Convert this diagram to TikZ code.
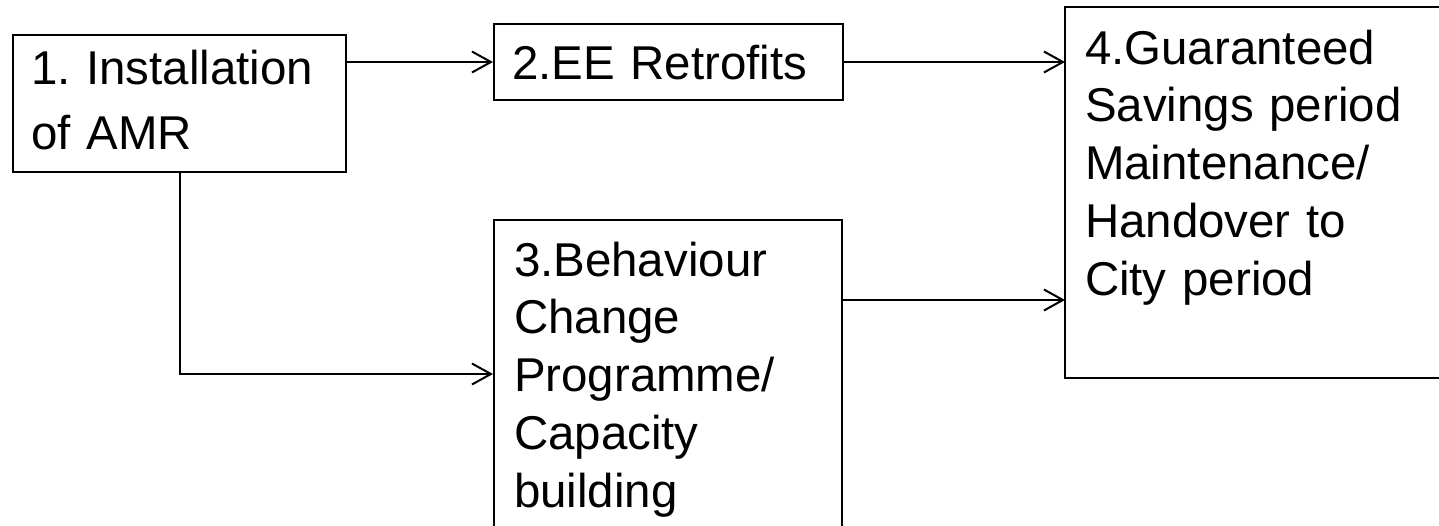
\documentclass[tikz,border=0pt]{standalone}
\usepackage{fontspec}
\setmainfont{Liberation Sans}
\usetikzlibrary{arrows.meta}
\frenchspacing
\tikzset{
	stage/.style={draw,line width=0.04cm,anchor=north west,align=left,text height=0.68cm,font=\fontsize{27}{33}\selectfont},
	flow/.style={line width=0.04cm,-{Straight Barb[length=0.38cm,width=0.42cm,line width=0.04cm]}}
}
\begin{document}
\begin{tikzpicture}
	\useasboundingbox (0,0) rectangle (28.78,-10.5);
	\clip (0,0) rectangle (28.78,-10.5);
	\node[stage,inner xsep=0.36cm,inner ysep=0.3cm,text depth=1.46cm,text width=5.94cm,font=\fontsize{27}{37}\selectfont] (amr) at (0.24,-0.68) {1. Installation\\of AMR};
	\node[stage,inner xsep=0.36cm,inner ysep=0.42cm,text depth=0cm,text width=6.26cm] (retro) at (9.86,-0.46) {2.EE Retrofits};
	\node[stage,inner xsep=0.4cm,inner ysep=0.44cm,text depth=4.6cm,text width=6.16cm] (behav) at (9.86,-4.38) {3.Behaviour\\Change\\Programme/\\Capacity\\building};
	\node[stage,draw=none,inner xsep=0.38cm,inner ysep=0.44cm,text depth=5.82cm,text width=7.6cm] (guar) at (21.3,-0.14) {4.Guaranteed\\Savings period\\Maintenance/\\Handover to\\City period};
	\draw[line width=0.04cm] (guar.north east) -- (guar.north west) -- (guar.south west) -- (guar.south east);
	\coordinate (bout) at ([yshift=-1.62cm]behav.north east);
	\draw[flow] (amr.east |- retro.west) -- (retro.west);
	\draw[flow] (retro.east) -- (retro.east -| guar.west);
	\draw[flow] (amr.south) |- (behav.west);
	\draw[flow] (bout) -- (bout -| guar.west);
\end{tikzpicture}
\end{document}
